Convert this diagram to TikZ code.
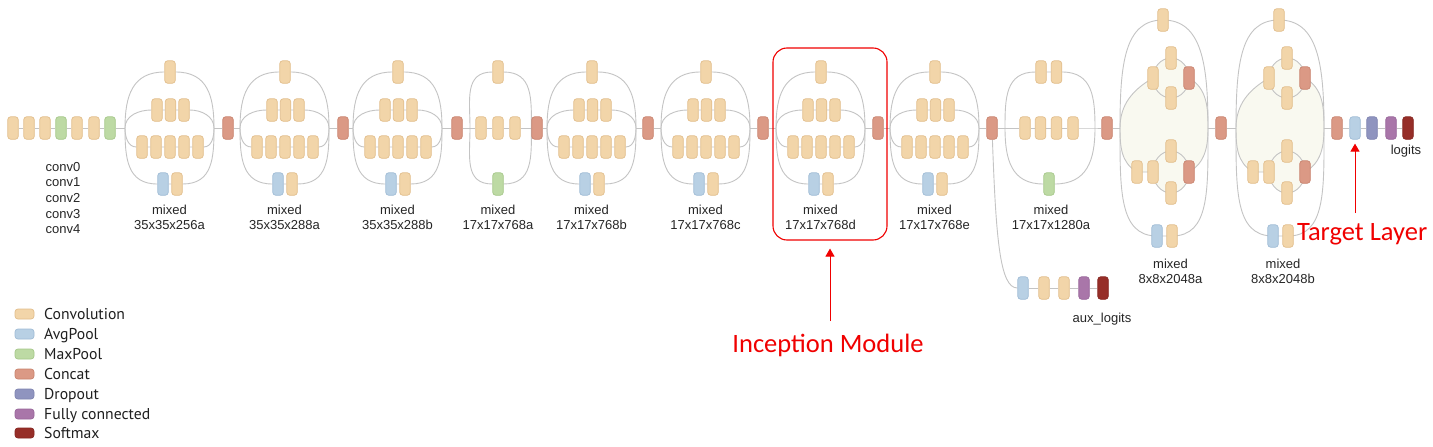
\documentclass[tikz,border=0pt]{standalone}
\usepackage{fontspec}
\setmainfont{Liberation Sans}
\newfontfamily\calib{Carlito}
\newfontfamily\legfont{PT Sans}
\usetikzlibrary{backgrounds,arrows.meta}
\pgfdeclarelayer{bottom}
\pgfsetlayers{bottom,background,main}
\definecolor{convf}{HTML}{F2D5A9}
\definecolor{convd}{HTML}{E2BE8C}
\definecolor{avgf}{HTML}{B8D0E4}
\definecolor{avgd}{HTML}{A0BCD6}
\definecolor{maxf}{HTML}{BDDAA4}
\definecolor{maxd}{HTML}{A6C88A}
\definecolor{catf}{HTML}{DB9985}
\definecolor{catd}{HTML}{C9836E}
\definecolor{dropf}{HTML}{8F94BF}
\definecolor{dropd}{HTML}{7E83B0}
\definecolor{fcf}{HTML}{A976A9}
\definecolor{fcd}{HTML}{98669A}
\definecolor{softf}{HTML}{962E28}
\definecolor{softd}{HTML}{85241F}
\definecolor{lineg}{HTML}{C4C4C4}
\definecolor{blobf}{HTML}{F9F9F0}
\definecolor{redc}{HTML}{F00000}
\tikzset{
  bx/.style={rounded corners=3pt, minimum width=10.5pt, minimum height=22.5pt, inner sep=0pt, line width=0.7pt},
  conv/.style={bx, fill=convf, draw=convd},
  avg/.style={bx, fill=avgf, draw=avgd},
  maxp/.style={bx, fill=maxf, draw=maxd},
  cat/.style={bx, fill=catf, draw=catd},
  drop/.style={bx, fill=dropf, draw=dropd},
  fc/.style={bx, fill=fcf, draw=fcd},
  soft/.style={bx, fill=softf, draw=softd},
  ln/.style={draw=lineg, line width=0.9pt},
  blob/.style={fill=blobf},
  lbl/.style={font=\fontsize{13}{15}\selectfont, align=center, inner sep=0pt, anchor=north, text=black!85},
  sw/.style={rounded corners=3pt, minimum width=19pt, minimum height=10pt},
  legt/.style={font=\legfont\fontsize{15.7}{18}\selectfont, inner sep=0pt, anchor=base west, text=black!88},
  redarr/.style={draw=redc, line width=1pt, -{Triangle[width=9pt,length=8pt]}},
  redtxt/.style={font=\calib\fontsize{26.5}{30}\selectfont, text=redc, inner sep=0pt}
}
\newcommand\stdmod[3]{%
  \coordinate (#1L) at (#2,-128);
  \coordinate (#1R) at (#2+89,-128);
  \node[conv] (#1t) at (#2+45,-72) {};
  \node[conv] (#1a1) at (#2+32,-110) {};
  \node[conv] (#1a2) at (#2+45.5,-110) {};
  \node[conv] (#1a3) at (#2+59,-110) {};
  \node[conv] (#1b1) at (#2+17,-147) {};
  \node[conv] (#1b2) at (#2+31,-147) {};
  \node[conv] (#1b3) at (#2+45,-147) {};
  \node[conv] (#1b4) at (#2+59,-147) {};
  \node[conv] (#1b5) at (#2+73,-147) {};
  \node[avg] (#1c1) at (#2+38,-184) {};
  \node[conv] (#1c2) at (#2+52,-184) {};
  \node[lbl] (#1lab) at (#2+44.5,-204.5) {mixed\\#3};
  \begin{scope}[on background layer]
    \draw[ln] (#1L) to[out=90,in=180,looseness=1.2] (#1t) to[out=0,in=90,looseness=1.2] (#1R);
    \draw[ln] (#1L) to[out=90,in=180] (#1a1) -- (#1a2) -- (#1a3) to[out=0,in=90] (#1R);
    \draw[ln] (#1L) to[out=-90,in=180] (#1b1) -- (#1b2) -- (#1b3) -- (#1b4) -- (#1b5) to[out=0,in=-90] (#1R);
    \draw[ln] (#1L) to[out=-90,in=180,looseness=1.2] (#1c1) -- (#1c2) to[out=0,in=-90,looseness=1.2] (#1R);
  \end{scope}
}
\newcommand\bigmod[4]{%
  \coordinate (#1L) at (#2,-128);
  \coordinate (#1R) at (#2+88,-128);
  \node[conv] (#1t) at (#2+43,-20) {};
  \node[conv] (#1u1) at (#2+33,-78) {};
  \node[conv] (#1u2) at (#2+51,-58) {};
  \node[conv] (#1u3) at (#2+51,-98) {};
  \node[cat] (#1u4) at (#2+69,-78) {};
  \node[conv] (#1l1) at (#2+17,-172) {};
  \node[conv] (#1l2) at (#2+33,-172) {};
  \node[conv] (#1l3) at (#2+51,-151) {};
  \node[conv] (#1l4) at (#2+51,-193) {};
  \node[cat] (#1l5) at (#2+69,-172) {};
  \node[avg] (#1b1) at (#2+37,-236) {};
  \node[conv] (#1b2) at (#2+52,-236) {};
  \coordinate (#1ue) at (#2+51,-78);
  \coordinate (#1le) at (#2+51,-172);
  \node[lbl] (#1lab) at (#3,-258.5) {mixed\\#4};
  \begin{scope}[on background layer]
    \fill[blob] (#1L) to[out=90,in=210] (#1u1.center) -- (#1u4.center) to[out=-30,in=90] (#1R)
       to[out=-90,in=30] (#1l5.center) -- (#1l1.center) to[out=150,in=-90] (#1L) -- cycle;
    \fill[blob] (#1ue) ellipse [x radius=18, y radius=20];
    \fill[blob] (#1le) ellipse [x radius=18, y radius=21];
    \draw[ln] (#1ue) ellipse [x radius=18, y radius=20];
    \draw[ln] (#1le) ellipse [x radius=18, y radius=21];
    \draw[ln] (#1L) to[out=90,in=180,out looseness=1.4,in looseness=0.85] (#1t.center)
       to[out=0,in=90,out looseness=0.85,in looseness=1.4] (#1R);
    \draw[ln] (#1L) to[out=-90,in=180,out looseness=1.4,in looseness=0.85] (#1b1.center) -- (#1b2.center)
       to[out=0,in=-90,out looseness=0.85,in looseness=1.4] (#1R);
    \draw[ln] (#1L) to[out=90,in=210] (#1u1.center);
    \draw[ln] (#1u4.center) to[out=-30,in=90] (#1R);
    \draw[ln] (#1L) to[out=-90,in=150] (#1l1.center) -- (#1l2.center);
    \draw[ln] (#1l5.center) to[out=30,in=-90] (#1R);
  \end{scope}
}
\begin{document}
\begin{tikzpicture}[x=1pt,y=1pt]
\begin{pgfonlayer}{bottom}
\fill[white] (0,0) rectangle (1433,-447);
\end{pgfonlayer}
\useasboundingbox (0,0) rectangle (1433,-447);
% stem
\node[conv] (s1) at (13,-128) {};
\node[conv] (s2) at (29,-128) {};
\node[conv] (s3) at (45,-128) {};
\node[maxp] (s4) at (61,-128) {};
\node[conv] (s5) at (77,-128) {};
\node[conv] (s6) at (94,-128) {};
\node[maxp] (s7) at (110,-128) {};
\node[lbl, font=\fontsize{13}{15.6}\selectfont] (stemlab) at (63,-162) {conv0\\conv1\\conv2\\conv3\\conv4};
% concats
\node[cat] (cA) at (228,-128) {};
\node[cat] (cB) at (343,-128) {};
\node[cat] (cC) at (457,-128) {};
\node[cat] (cD) at (537,-128) {};
\node[cat] (cE) at (648,-128) {};
\node[cat] (cF) at (763,-128) {};
\node[cat] (cG) at (878,-128) {};
\node[cat] (cH) at (992,-128) {};
\node[cat] (cI) at (1107,-128) {};
\node[cat] (cJ) at (1221,-128) {};
\node[cat] (cK) at (1337,-128) {};
% modules
\stdmod{mA}{125}{35x35x256a}
\stdmod{mB}{240}{35x35x288a}
\stdmod{mC}{353}{35x35x288b}
\stdmod{mE}{547}{17x17x768b}
\stdmod{mF}{661}{17x17x768c}
\stdmod{mG}{776}{17x17x768d}
\stdmod{mH}{890}{17x17x768e}
% module 768a
\coordinate (mDL) at (470,-128);
\node[conv] (mDt) at (498,-72) {};
\node[conv] (mDm1) at (481,-128) {};
\node[conv] (mDm2) at (498,-128) {};
\node[conv] (mDm3) at (515,-128) {};
\node[maxp] (mDb) at (498,-184) {};
\node[lbl] (mDlab) at (498,-204.5) {mixed\\17x17x768a};
% module 1280a
\coordinate (mIL) at (1005,-128);
\coordinate (mIR) at (1095,-128);
\node[conv] (mIt1) at (1041,-72) {};
\node[conv] (mIt2) at (1056.5,-72) {};
\node[conv] (mIm1) at (1025,-128) {};
\node[conv] (mIm2) at (1040.5,-128) {};
\node[conv] (mIm3) at (1056.5,-128) {};
\node[conv] (mIm4) at (1073,-128) {};
\node[maxp] (mIb) at (1049,-184) {};
\node[lbl] (mIlab) at (1051,-204.5) {mixed\\17x17x1280a};
% modules 2048
\bigmod{mJ}{1120}{1170.5}{8x8x2048a}
\bigmod{mK}{1236}{1283}{8x8x2048b}
% final chain
\node[avg] (fA) at (1355,-128) {};
\node[drop] (fD) at (1372,-128) {};
\node[fc] (fF) at (1391,-128) {};
\node[soft] (fS) at (1408,-128) {};
\node[lbl] (loglab) at (1406,-145) {logits};
% aux
\node[avg] (xA) at (1023,-288) {};
\node[conv] (x1) at (1044,-288) {};
\node[conv] (x2) at (1064,-288) {};
\node[fc] (x3) at (1084,-288) {};
\node[soft] (x4) at (1103,-288) {};
\node[lbl] (auxlab) at (1102,-313) {aux\_logits};
% connectors
\begin{scope}[on background layer]
\draw[ln] (s1) -- (s2) -- (s3) -- (s4) -- (s5) -- (s6) -- (s7) -- (mAL);
\draw[ln] (mAR) -- (cA) -- (mBL);
\draw[ln] (mBR) -- (cB) -- (mCL);
\draw[ln] (mCR) -- (cC) -- (mDL);
\draw[ln] (mDL) -- (mDm1) -- (mDm2) -- (mDm3) -- (cD) -- (mEL);
\draw[ln] (mDL) to[out=90,in=180,looseness=1.2] (mDt) to[out=0,in=90,looseness=1.2] (cD.west);
\draw[ln] (mDL) to[out=-90,in=180,looseness=1.2] (mDb) to[out=0,in=-90,looseness=1.2] (cD.west);
\draw[ln] (mER) -- (cE) -- (mFL);
\draw[ln] (mFR) -- (cF) -- (mGL);
\draw[ln] (mGR) -- (cG) -- (mHL);
\draw[ln] (mHR) -- (cH) -- (mIL);
\draw[ln] (mIL) -- (mIm1) -- (mIm2) -- (mIm3) -- (mIm4) -- (mIR) -- (cI) -- (mJL);
\draw[ln] (mIL) to[out=90,in=180,looseness=1.2] (mIt1) -- (mIt2) to[out=0,in=90,looseness=1.2] (mIR);
\draw[ln] (mIL) to[out=-90,in=180,looseness=1.2] (mIb) to[out=0,in=-90,looseness=1.2] (mIR);
\draw[ln] (mJR) -- (cJ) -- (mKL);
\draw[ln] (mKR) -- (cK) -- (fA) -- (fD) -- (fF) -- (fS);
\draw[ln] (cH) .. controls (996,-240) and (1000,-288) .. (xA);
\draw[ln] (xA) -- (x1) -- (x2) -- (x3) -- (x4);
\end{scope}
% annotations
\node[draw=redc, line width=1.1pt, rounded corners=14pt, minimum width=114pt, minimum height=192pt, inner sep=0pt] (redbox) at (830,-144) {};
\node[redtxt, anchor=base] (inclab) at (828,-352) {Inception Module};
\coordinate (incA) at (830,-321);
\draw[redarr, shorten >=8pt] (incA) -- (redbox.south);
\node[redtxt, anchor=base west] (tgtlab) at (1297,-240) {Target Layer};
\coordinate (tgtA) at (1355,-213);
\draw[redarr, shorten >=4pt] (tgtA) -- (fA.south);
% legend
\node[conv, sw] (lg1) at (24.5,-314) {};
\node[avg, sw] (lg2) at (24.5,-334) {};
\node[maxp, sw] (lg3) at (24.5,-354) {};
\node[cat, sw] (lg4) at (24.5,-374) {};
\node[drop, sw] (lg5) at (24.5,-394) {};
\node[fc, sw] (lg6) at (24.5,-414) {};
\node[soft, sw] (lg7) at (24.5,-433) {};
\node[legt] (lt1) at (44,-319.5) {Convolution};
\node[legt] (lt2) at (44,-339.5) {AvgPool};
\node[legt] (lt3) at (44,-359.5) {MaxPool};
\node[legt] (lt4) at (44,-379.5) {Concat};
\node[legt] (lt5) at (44,-399.5) {Dropout};
\node[legt] (lt6) at (44,-419.5) {Fully connected};
\node[legt] (lt7) at (44,-438.5) {Softmax};
\end{tikzpicture}
\end{document}
